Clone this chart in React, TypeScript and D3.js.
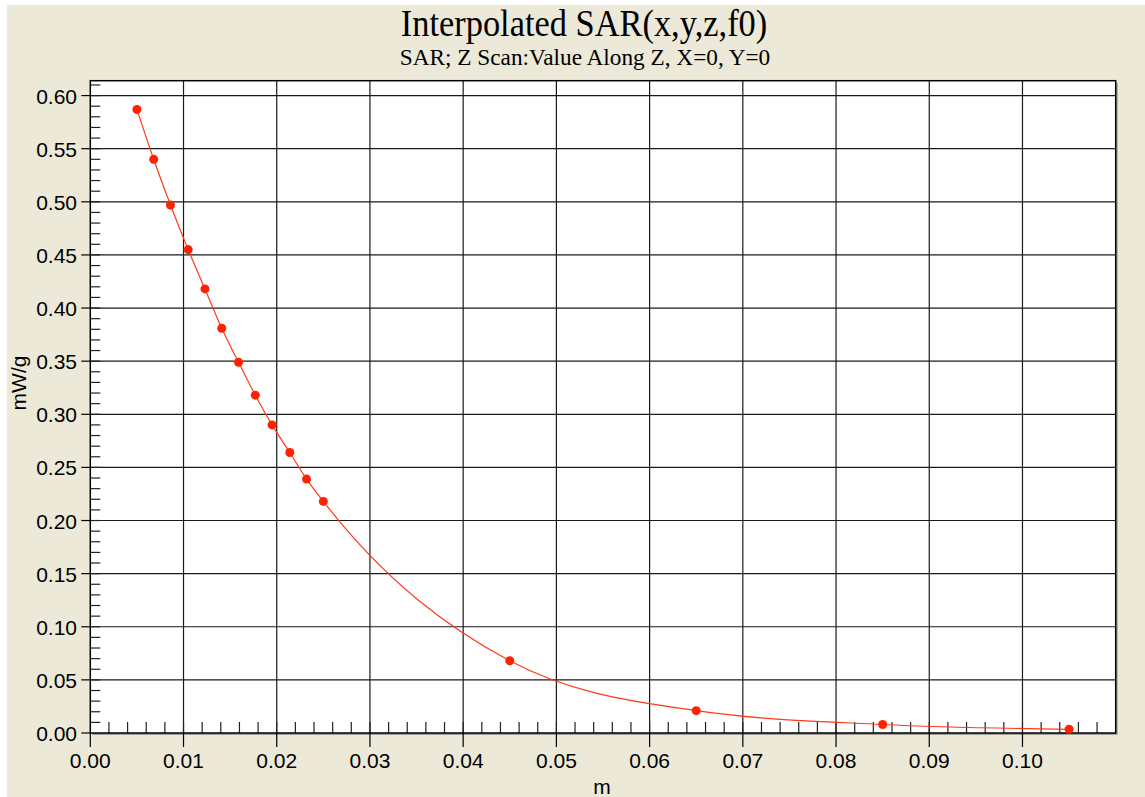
import React from "react";
import * as d3 from "d3";

// Z-scan measurement positions (m) and SAR values (mW/g)
const zPositions = [
  0.005, 0.0068, 0.0086, 0.0105, 0.0123, 0.0141, 0.0159, 0.0177, 0.0195,
  0.0214, 0.0232, 0.025, 0.045, 0.065, 0.085, 0.105,
];
const sarValues = [
  0.587, 0.540, 0.497, 0.455, 0.418, 0.381, 0.349, 0.318, 0.290, 0.264,
  0.239, 0.218, 0.068, 0.021, 0.008, 0.0035,
];

const xTickValues = [0, 0.01, 0.02, 0.03, 0.04, 0.05, 0.06, 0.07, 0.08, 0.09, 0.1];
const yTickValues = [0, 0.05, 0.1, 0.15, 0.2, 0.25, 0.3, 0.35, 0.4, 0.45, 0.5, 0.55, 0.6];

const TITLE = "Interpolated SAR(x,y,z,f0)";
const SUBTITLE = "SAR; Z Scan:Value Along Z, X=0, Y=0";
const X_LABEL = "m";
const Y_LABEL = "mW/g";

const W = 1145;
const H = 797;
const plot = { left: 90.3, right: 1115.7, top: 80.7, bottom: 733 };

export default function App() {
  const x = d3.scaleLinear().domain([0, 0.11]).range([plot.left, plot.right]);
  const y = d3.scaleLinear().domain([0, 0.614]).range([plot.bottom, plot.top]);

  const xMinor = d3.range(1, 55).map((i) => i * 0.002).filter((v) => v < 0.11);
  const yMinor = d3.range(1, 62).map((i) => i * 0.01).filter((v) => v < 0.614);

  const points = zPositions.map((z, i) => [z, sarValues[i]] as [number, number]);
  const line = d3
    .line<[number, number]>()
    .x((d) => x(d[0]))
    .y((d) => y(d[1]))
    .curve(d3.curveMonotoneX);

  const sans = "'Liberation Sans', Arial, sans-serif";
  const serif = "'Liberation Serif', 'Times New Roman', serif";
  const fmt = d3.format(".2f");

  return (
    <svg
      width={W}
      height={H}
      style={{ position: "absolute", left: 0, top: 0, display: "block" }}
    >
      <rect x={0} y={0} width={W} height={H} fill="#ffffff" />
      <rect x={7} y={5} width={W - 7} height={H - 5} fill="#ece9d8" />

      {/* titles, slightly condensed */}
      <text
        transform="translate(584,36) scale(0.93,1)"
        textAnchor="middle"
        fontFamily={serif}
        fontSize={37}
        fill="#000"
      >
        {TITLE}
      </text>
      <text
        transform="translate(585,65) scale(0.97,1)"
        textAnchor="middle"
        fontFamily={serif}
        fontSize={24}
        fill="#000"
      >
        {SUBTITLE}
      </text>

      {/* plot area with drop shadow */}
      <rect
        x={plot.left + 2}
        y={plot.top + 2}
        width={plot.right - plot.left}
        height={plot.bottom - plot.top}
        fill="#a09f98"
      />
      <rect
        x={plot.left}
        y={plot.top}
        width={plot.right - plot.left}
        height={plot.bottom - plot.top}
        fill="#ffffff"
      />

      {/* major grid */}
      {xTickValues.slice(1).map((v) => (
        <line key={"gx" + v} x1={x(v)} x2={x(v)} y1={plot.top} y2={plot.bottom} stroke="#1a1a1a" strokeWidth={1.2} />
      ))}
      {yTickValues.slice(1).map((v) => (
        <line key={"gy" + v} x1={plot.left} x2={plot.right} y1={y(v)} y2={y(v)} stroke="#1a1a1a" strokeWidth={1.2} />
      ))}

      {/* minor ticks inside the frame */}
      {xMinor.map((v) => (
        <line key={"mx" + v} x1={x(v)} x2={x(v)} y1={plot.bottom} y2={plot.bottom - 11} stroke="#222" strokeWidth={1.2} />
      ))}
      {yMinor.map((v) => (
        <line key={"my" + v} x1={plot.left} x2={plot.left + 10} y1={y(v)} y2={y(v)} stroke="#222" strokeWidth={1.2} />
      ))}

      {/* frame */}
      <rect
        x={plot.left}
        y={plot.top}
        width={plot.right - plot.left}
        height={plot.bottom - plot.top}
        fill="none"
        stroke="#000"
        strokeWidth={1.5}
      />

      {/* x axis ticks and labels */}
      {xTickValues.map((v) => (
        <g key={"xt" + v}>
          <line x1={x(v)} x2={x(v)} y1={plot.bottom} y2={plot.bottom + 14} stroke="#000" strokeWidth={1.2} />
          <text x={x(v)} y={768} textAnchor="middle" fontFamily={sans} fontSize={21} fill="#000">
            {fmt(v)}
          </text>
        </g>
      ))}
      {/* y axis ticks and labels */}
      {yTickValues.map((v) => (
        <g key={"yt" + v}>
          <line x1={plot.left - 9} x2={plot.left} y1={y(v)} y2={y(v)} stroke="#000" strokeWidth={1.2} />
          <text x={77} y={y(v) + 8} textAnchor="end" fontFamily={sans} fontSize={21} fill="#000">
            {fmt(v)}
          </text>
        </g>
      ))}

      {/* axis titles */}
      <text x={602} y={794} textAnchor="middle" fontFamily={sans} fontSize={21} fill="#000">
        {X_LABEL}
      </text>
      <text
        transform={`translate(26,383) rotate(-90)`}
        textAnchor="middle"
        fontFamily={sans}
        fontSize={21}
        fill="#000"
      >
        {Y_LABEL}
      </text>

      {/* interpolated curve and measured points */}
      <path d={line(points) ?? ""} fill="none" stroke="#ff3a1a" strokeWidth={1.2} />
      {points.map((d, i) => (
        <circle key={"p" + i} cx={x(d[0])} cy={y(d[1])} r={4.5} fill="#ff2200" />
      ))}
    </svg>
  );
}
